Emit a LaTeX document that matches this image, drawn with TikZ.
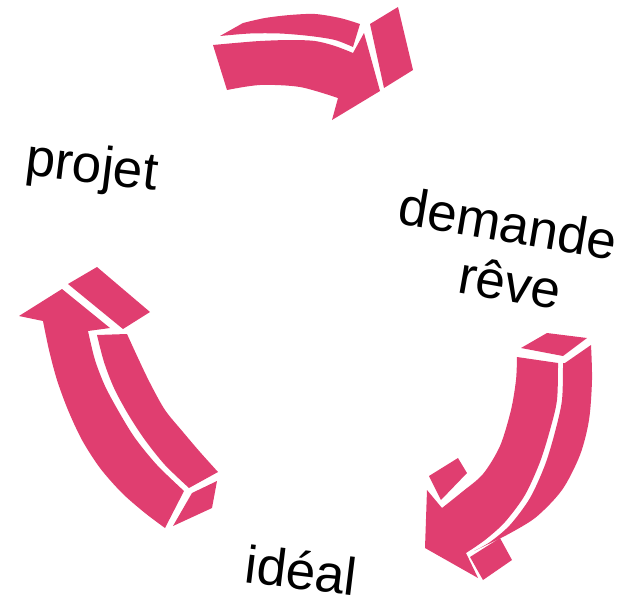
\documentclass[tikz,border=0pt]{standalone}
\usepackage{fontspec}
\setmainfont{Liberation Sans}
\definecolor{arrowpink}{RGB}{224,62,112}
\begin{document}
\begin{tikzpicture}[x=1pt,y=-1pt,
  arrowface/.style={fill=arrowpink},
  lbl/.style={font=\fontsize{53}{60}\selectfont, anchor=base, inner sep=0pt, text=black}]
\useasboundingbox (0,0) rectangle (633,603);
% ---------- top arrow ----------
\fill[arrowface] (220,36) -- plot[smooth] coordinates {(243,23) (265,18) (290,15) (315,14) (340,18) (360,24)}
  -- (353,47) -- plot[smooth] coordinates {(353,47) (335,40) (310,36) (280,33.5) (250,33.5) (220,36)} -- cycle;
\fill[arrowface] (213,45) -- (227,90) -- plot[smooth] coordinates {(227,90) (260,85) (300,87) (338,98)}
  -- (332,120) -- (380,91) -- (364,33) -- (353,53)
  -- plot[smooth] coordinates {(353,53) (335,46) (315,41) (290,40) (260,41) (235,43) (213,45)} -- cycle;
\fill[arrowface] (370,24) -- (398,7) -- (413,70) -- (384,88) -- cycle;
% ---------- right arrow ----------
\fill[arrowface] (521,348) -- (547,333) -- (587,338) -- (563,356) -- cycle;
\fill[arrowface] (517,357) -- (558,363)
  -- plot[smooth] coordinates {(558,363) (557,400) (550,430) (540,462) (525,495) (505,522) (485,540) (466,553)}
  -- (478,578) -- (425,548) -- (427,490) -- (442,508)
  -- plot[smooth] coordinates {(442,508) (462,492) (483,474) (500,446) (511,410) (516,380) (517,357)} -- cycle;
\fill[arrowface] (565,363) -- (591,345)
  -- plot[smooth] coordinates {(591,345) (592,380) (589,420) (580,455) (562,490) (535,518) (503,537)}
  -- (474,551)
  -- plot[smooth] coordinates {(474,551) (490,542) (510,525) (530,498) (545,465) (555,432) (562,400) (563,363)} -- cycle;
\fill[arrowface] (470,557) -- (500,538) -- (512,560) -- (483,580) -- cycle;
\fill[arrowface] (429,476) -- (458,458) -- (467,473) -- (441,500) -- cycle;
% ---------- left arrow ----------
\fill[arrowface] (68,284) -- (97,267) -- (150,312) -- (123,329) -- cycle;
\fill[arrowface] (19,316) -- (62,289) -- (110,328) -- (88,331)
  -- plot[smooth] coordinates {(88,331) (95,360) (105,386) (119,412) (135,438) (157,465) (184,491)}
  -- (165,528)
  -- plot[smooth] coordinates {(165,528) (145,513) (122,493) (100,468) (82,440) (68,410) (57,380) (49,350) (43,321)} -- cycle;
\fill[arrowface] (97,335) -- (127,334)
  -- plot[smooth] coordinates {(127,334) (138,358) (150,383) (165,410) (183,432) (200,452) (218,472)}
  -- (189,488)
  -- plot[smooth] coordinates {(189,488) (165,465) (145,440) (128,414) (114,388) (104,362) (97,335)} -- cycle;
\fill[arrowface] (192,493) -- (217,481) -- (212,508) -- (173,526) -- cycle;
% ---------- labels ----------
\node[lbl, rotate=-7] (projet) at (90,182.5) {projet};
\node[lbl, rotate=-9.5] (demande) at (505,242) {demande};
\node[lbl, rotate=-10] (reve) at (507,301) {rêve};
\node[lbl, rotate=-7] (ideal) at (299,589) {idéal};
\end{tikzpicture}
\end{document}
